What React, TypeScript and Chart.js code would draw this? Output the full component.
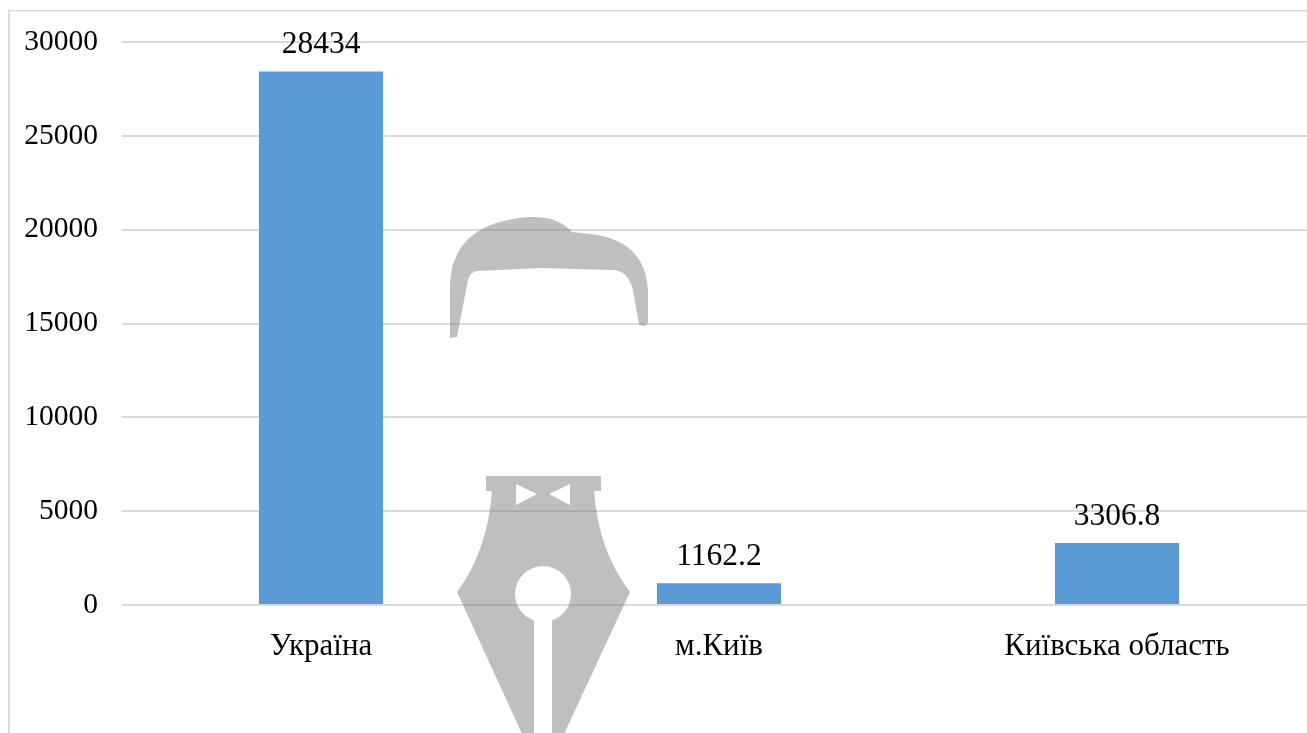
import React, { useEffect, useRef } from "react";
import { Chart, registerables } from "chart.js";

Chart.register(...registerables);

const categories: string[] = ["Україна", "м.Київ", "Київська область"];
const values: number[] = [28434, 1162.2, 3306.8];
const valueLabels: string[] = ["28434", "1162.2", "3306.8"];
const yTicks: number[] = [0, 5000, 10000, 15000, 20000, 25000, 30000];

const FONT = '"Liberation Serif", "Times New Roman", serif';
const W = 1330;
const H = 733;

const framePlugin = {
  id: "frame",
  beforeDraw(chart: any) {
    const ctx = chart.ctx;
    ctx.save();
    ctx.fillStyle = "#ffffff";
    ctx.fillRect(0, 0, chart.width, chart.height);
    ctx.fillStyle = "#d9d9d9";
    ctx.fillRect(8, 10, 2, chart.height - 10);
    ctx.fillRect(8, 10, chart.width - 8, 1.5);
    ctx.restore();
  },
};

const dataLabelPlugin = {
  id: "dataLabels",
  afterDatasetsDraw(chart: any) {
    const ctx = chart.ctx;
    const meta = chart.getDatasetMeta(0);
    ctx.save();
    ctx.font = `31.5px ${FONT}`;
    ctx.fillStyle = "#000000";
    ctx.textAlign = "center";
    ctx.textBaseline = "alphabetic";
    meta.data.forEach((bar: any, i: number) => {
      ctx.fillText(valueLabels[i], bar.x, bar.y - 18);
    });
    ctx.restore();
  },
};

const watermarkPlugin = {
  id: "watermark",
  afterDraw(chart: any) {
    const off = document.createElement("canvas");
    off.width = chart.width;
    off.height = chart.height;
    const o = off.getContext("2d");
    if (!o) return;
    o.fillStyle = "#808080";
    // hair piece
    o.beginPath();
    o.moveTo(450, 338);
    o.lineTo(450, 285);
    o.quadraticCurveTo(452, 222, 530, 217);
    o.quadraticCurveTo(558, 216, 572, 232);
    o.lineTo(590, 234);
    o.quadraticCurveTo(645, 240, 648, 290);
    o.lineTo(648, 322);
    o.quadraticCurveTo(645, 329, 639, 324);
    o.lineTo(633, 290);
    o.quadraticCurveTo(628, 270, 612, 270);
    o.lineTo(540, 268);
    o.lineTo(477, 271);
    o.quadraticCurveTo(470, 272, 468, 280);
    o.lineTo(457, 337);
    o.closePath();
    o.fill();
    // cap
    o.fillRect(486, 476, 115, 15);
    // body
    o.beginPath();
    o.moveTo(492, 490);
    o.lineTo(594, 490);
    o.quadraticCurveTo(598, 550, 630, 592);
    o.lineTo(552, 760);
    o.lineTo(534, 760);
    o.lineTo(457, 592);
    o.quadraticCurveTo(488, 550, 492, 490);
    o.closePath();
    o.fill();
    // cut-outs
    o.globalCompositeOperation = "destination-out";
    o.beginPath();
    o.arc(543, 594, 28, 0, Math.PI * 2);
    o.fill();
    o.fillRect(534, 600, 18, 160);
    o.beginPath();
    o.moveTo(516, 484);
    o.lineTo(516, 505);
    o.lineTo(537, 494);
    o.closePath();
    o.fill();
    o.beginPath();
    o.moveTo(570, 484);
    o.lineTo(570, 505);
    o.lineTo(549, 494);
    o.closePath();
    o.fill();
    const ctx = chart.ctx;
    ctx.save();
    ctx.globalAlpha = 0.5;
    ctx.drawImage(off, 0, 0, chart.width, chart.height);
    ctx.restore();
  },
};

export default function App() {
  const ref = useRef<HTMLCanvasElement | null>(null);

  useEffect(() => {
    if (!ref.current) return;
    const chart = new Chart(ref.current, {
      type: "bar",
      data: {
        labels: categories,
        datasets: [
          {
            data: values,
            backgroundColor: "#5B9BD5",
            borderWidth: 0,
            categoryPercentage: 1,
            barPercentage: 0.312,
          },
        ],
      },
      options: {
        animation: false,
        responsive: false,
        devicePixelRatio: 1,
        layout: { padding: { top: 42, right: 14, left: 0, bottom: 0 } },
        plugins: {
          legend: { display: false },
          tooltip: { enabled: false },
          title: { display: false },
        },
        scales: {
          x: {
            grid: { display: false, drawTicks: false },
            border: { display: false },
            ticks: {
              font: { family: FONT, size: 31 },
              color: "#000000",
              padding: 23,
              maxRotation: 0,
              autoSkip: false,
            },
            afterFit(scale: any) {
              scale.height = 128;
            },
          },
          y: {
            min: 0,
            max: 30000,
            afterBuildTicks(scale: any) {
              scale.ticks = yTicks.map((v) => ({ value: v }));
            },
            grid: { color: "#d9d9d9", lineWidth: 2, drawTicks: false },
            border: { display: false },
            ticks: {
              font: { family: FONT, size: 29.5 },
              color: "#000000",
              padding: 24,
              callback: (v: any) => String(v),
            },
            afterFit(scale: any) {
              scale.width = 122;
            },
          },
        },
      },
      plugins: [framePlugin, dataLabelPlugin, watermarkPlugin],
    });
    return () => chart.destroy();
  }, []);

  return (
    <div
      style={{
        position: "fixed",
        left: 0,
        top: 0,
        width: 1307,
        height: 733,
        overflow: "hidden",
        background: "#ffffff",
      }}
    >
      <canvas
        ref={ref}
        width={W}
        height={H}
        style={{ position: "absolute", left: 0, top: 0, width: W, height: H }}
      />
    </div>
  );
}
